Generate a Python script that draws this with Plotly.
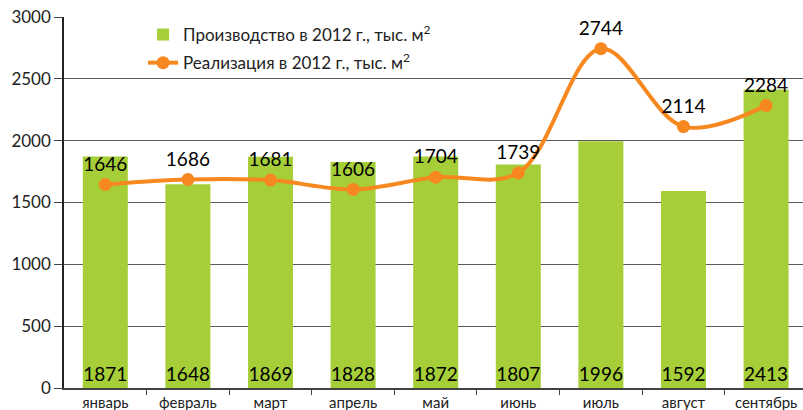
import plotly.graph_objects as go

months = ["январь", "февраль", "март", "апрель", "май", "июнь", "июль", "август", "сентябрь"]
production = [1871, 1648, 1869, 1828, 1872, 1807, 1996, 1592, 2413]
sales = [1646, 1686, 1681, 1606, 1704, 1739, 2744, 2114, 2284]
y_ticks = [0, 500, 1000, 1500, 2000, 2500, 3000]

FONT = "Lato"
GREEN = "#A6CE39"
ORANGE = "#F7881F"

x_idx = list(range(len(months)))

fig = go.Figure()
fig.add_trace(go.Bar(
    x=x_idx, y=production, name="Производство в 2012 г., тыс. м<sup>2</sup>",
    legendgroup="a",
    marker=dict(color=GREEN, line=dict(width=0)), width=0.545,
    text=[str(v) for v in production], textposition="inside", insidetextanchor="start",
    textfont=dict(family=FONT, size=19, color="black"), textangle=0,
))
fig.add_trace(go.Scatter(
    x=x_idx, y=sales, name="Реализация в 2012 г., тыс. м<sup>2</sup>",
    legendgroup="b",
    mode="lines+markers+text", line=dict(color=ORANGE, width=4, shape="spline", smoothing=1.0),
    marker=dict(color=ORANGE, size=13),
    text=[str(v) for v in sales], textposition="top center",
    textfont=dict(family=FONT, size=19, color="black"),
))

fig.update_layout(
    width=803, height=410,
    margin=dict(l=64, r=0, t=17, b=22),
    paper_bgcolor="white", plot_bgcolor="white",
    font=dict(family=FONT, color="#222"),
    showlegend=True,
    legend=dict(x=0.107, y=1.0, xanchor="left", yanchor="top", traceorder="grouped",
                bgcolor="rgba(0,0,0,0)", font=dict(family=FONT, size=17, color="#222"),
                tracegroupgap=3),
    uniformtext=dict(minsize=19, mode="show"),
    bargap=0.45,
)
fig.update_xaxes(
    range=[-0.5, 8.447], tickmode="array", tickvals=x_idx, ticktext=months,
    tickfont=dict(family=FONT, size=15, color="#222"),
    showgrid=False, showline=True, linecolor="#444", linewidth=1.5,
    ticks="", zeroline=False, automargin=False,
)
fig.update_xaxes(minor=dict(tickvals=[i + 0.5 for i in x_idx], ticks="outside", ticklen=5,
                            tickcolor="#444", showgrid=False))
fig.update_yaxes(
    range=[0, 3000], tickvals=y_ticks, tickfont=dict(family=FONT, size=17, color="#222"),
    showgrid=True, gridcolor="#5a5a5a", gridwidth=1,
    showline=True, linecolor="#222", linewidth=1.5,
    ticks="outside", ticklen=8, tickcolor="#444", zeroline=False, automargin=False,
)
fig.write_html("out.html", config={"displayModeBar": False},
               post_script="document.body.style.margin='0';document.body.style.overflow='hidden';")
